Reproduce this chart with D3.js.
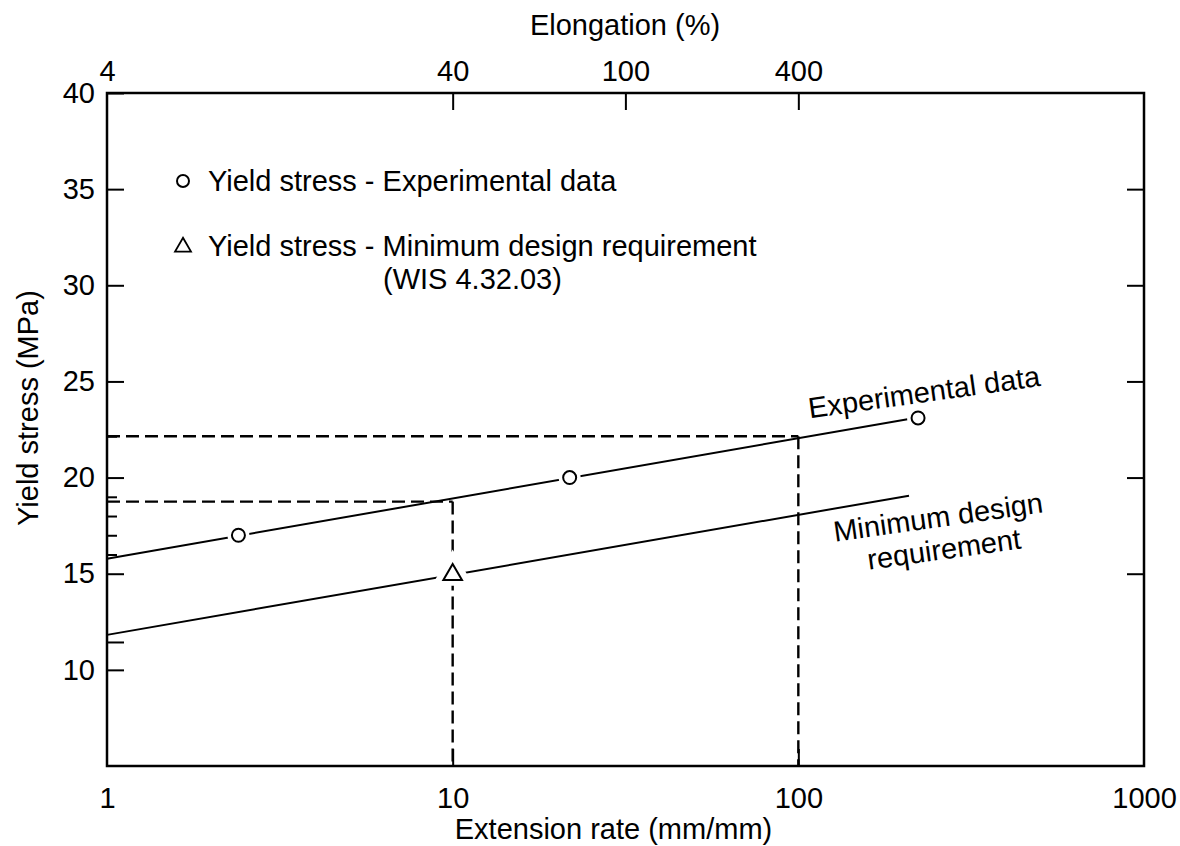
<!DOCTYPE html>
<html>
<head>
<meta charset="utf-8">
<script src="https://cdn.jsdelivr.net/npm/d3@7"></script>
<style>
  html, body { margin: 0; padding: 0; background: #fff; }
  svg { display: block; }
  text { font-family: "Liberation Sans", Arial, Helvetica, sans-serif; fill: #000; }
</style>
</head>
<body>
<svg id="chart" width="1180" height="846"></svg>
<script>
// ---- data ----
const xDomain = [1, 1000];
const yDomain = [5, 40];
const bottomTicks = [1, 10, 100, 1000];
const bottomTickLabels = ["1", "10", "100", "1000"];
const leftTicks = [10, 15, 20, 25, 30, 35, 40];
const leftMinorTicks = [22.15, 19, 18, 17, 16];
const leftExtraTicks = [11.45];
const topTickLabels = ["4", "40", "100", "400"];
const topTickPositions = [1, 10, 31.6, 100]; // extension rate where each elongation tick sits

const expX = [2.4, 21.8, 222];
const expY = [17.0, 20.0, 23.1];
const minX = [10];
const minY = [15.0];

const expLineX = [1, 209];
const expLineY = [15.78, 23.05];
const minLineX = [1, 209];
const minLineY = [11.82, 19.06];

const refLevels = [18.75, 22.15];
const refRates = [10, 100];

// ---- layout ----
const svg = d3.select("#chart");
const L = 107, R = 1144, T = 93, B = 766;
const x = d3.scaleLog().domain(xDomain).range([L, R]);
const y = d3.scaleLinear().domain(yDomain).range([B, T]);
const FS = 29;

// dashed reference lines
const dashG = svg.append("g").attr("stroke", "#000").attr("stroke-width", 2.4)
  .attr("stroke-dasharray", "13,6").attr("fill", "none");
refLevels.forEach((lv, i) => {
  dashG.append("line").attr("x1", x(xDomain[0])).attr("x2", x(refRates[i]))
    .attr("y1", y(lv)).attr("y2", y(lv));
  dashG.append("line").attr("x1", x(refRates[i])).attr("x2", x(refRates[i]))
    .attr("y1", y(lv)).attr("y2", y(yDomain[0]));
});

// fitted lines
const line = d3.line().x(d => x(d[0])).y(d => y(d[1]));
svg.append("path").datum(d3.zip(expLineX, expLineY)).attr("d", line)
  .attr("stroke", "#000").attr("stroke-width", 2).attr("fill", "none");
svg.append("path").datum(d3.zip(minLineX, minLineY)).attr("d", line)
  .attr("stroke", "#000").attr("stroke-width", 2).attr("fill", "none");

// markers (white halo creates the gap in the line)
const circ = svg.append("g");
d3.zip(expX, expY).forEach(d => {
  circ.append("circle").attr("cx", x(d[0])).attr("cy", y(d[1])).attr("r", 7)
    .attr("fill", "#fff").attr("stroke", "#fff").attr("stroke-width", 8);
  circ.append("circle").attr("cx", x(d[0])).attr("cy", y(d[1])).attr("r", 6.5)
    .attr("fill", "#fff").attr("stroke", "#000").attr("stroke-width", 2);
});
const tri = d3.symbol().type(d3.symbolTriangle).size(150);
d3.zip(minX, minY).forEach(d => {
  circ.append("path").attr("d", d3.symbol().type(d3.symbolTriangle).size(260)())
    .attr("transform", `translate(${x(d[0])},${y(d[1])})`)
    .attr("fill", "#fff").attr("stroke", "#fff").attr("stroke-width", 10);
  circ.append("path").attr("d", tri())
    .attr("transform", `translate(${x(d[0])},${y(d[1]) + 1})`)
    .attr("fill", "#fff").attr("stroke", "#000").attr("stroke-width", 2);
});

// frame
svg.append("rect").attr("x", L).attr("y", T).attr("width", R - L).attr("height", B - T)
  .attr("fill", "none").attr("stroke", "#000").attr("stroke-width", 2.5);

// axes (ticks inward)
const leftAxis = d3.axisLeft(y).tickValues(leftTicks).tickSize(-17).tickPadding(12).tickFormat(d3.format("d"));
const gl = svg.append("g").attr("transform", `translate(${L},0)`).call(leftAxis);
gl.select(".domain").remove();
gl.selectAll("line").attr("stroke-width", 2);
gl.selectAll("text").attr("font-size", FS).attr("font-family", null).attr("x", -12);

const leftMinor = d3.axisLeft(y).tickValues(leftMinorTicks).tickSize(-10).tickFormat("");
const glm = svg.append("g").attr("transform", `translate(${L},0)`).call(leftMinor);
glm.select(".domain").remove();
glm.selectAll("line").attr("stroke-width", 2);
const leftExtra = d3.axisLeft(y).tickValues(leftExtraTicks).tickSize(-17).tickFormat("");
const gle = svg.append("g").attr("transform", `translate(${L},0)`).call(leftExtra);
gle.select(".domain").remove();
gle.selectAll("line").attr("stroke-width", 2);

const rightAxis = d3.axisRight(y).tickValues(leftTicks.slice(1, -1)).tickSize(-17).tickFormat("");
const gr = svg.append("g").attr("transform", `translate(${R},0)`).call(rightAxis);
gr.select(".domain").remove();
gr.selectAll("line").attr("stroke-width", 2);

const bottomAxis = d3.axisBottom(x).tickValues(bottomTicks).tickSize(-17).tickPadding(21)
  .tickFormat((d, i) => bottomTickLabels[i]);
const gb = svg.append("g").attr("transform", `translate(0,${B})`).call(bottomAxis);
gb.select(".domain").remove();
gb.selectAll("line").attr("stroke-width", 2)
  .attr("opacity", d => (d === xDomain[0] || d === xDomain[1]) ? 0 : 1);
gb.selectAll("text").attr("font-size", FS).attr("font-family", null);

const topAxis = d3.axisTop(x).tickValues(topTickPositions).tickSize(-17).tickPadding(12)
  .tickFormat((d, i) => topTickLabels[i]);
const gt = svg.append("g").attr("transform", `translate(0,${T})`).call(topAxis);
gt.select(".domain").remove();
gt.selectAll("line").attr("stroke-width", 2)
  .attr("opacity", d => d === xDomain[0] ? 0 : 1);
gt.selectAll("text").attr("font-size", FS).attr("font-family", null);

// axis titles
svg.append("text").attr("x", (L + R) / 2 - 12).attr("y", 839).attr("text-anchor", "middle")
  .attr("font-size", FS).text("Extension rate (mm/mm)");
svg.append("text").attr("x", 625).attr("y", 35).attr("text-anchor", "middle")
  .attr("font-size", FS).text("Elongation (%)");
svg.append("text").attr("transform", "translate(38,408) rotate(-90)").attr("text-anchor", "middle")
  .attr("font-size", FS).text("Yield stress (MPa)");

// legend
svg.append("circle").attr("cx", 183).attr("cy", 181).attr("r", 6)
  .attr("fill", "#fff").attr("stroke", "#000").attr("stroke-width", 2);
svg.append("text").attr("x", 208).attr("y", 181).attr("dy", "0.35em").attr("font-size", FS)
  .text("Yield stress - Experimental data");
svg.append("path").attr("d", d3.symbol().type(d3.symbolTriangle).size(110)())
  .attr("transform", "translate(183,247)")
  .attr("fill", "#fff").attr("stroke", "#000").attr("stroke-width", 1.8);
svg.append("text").attr("x", 208).attr("y", 246).attr("dy", "0.35em").attr("font-size", FS)
  .text("Yield stress - Minimum design requirement");
svg.append("text").attr("x", 383).attr("y", 279).attr("dy", "0.35em").attr("font-size", FS)
  .text("(WIS 4.32.03)");

// line annotations
svg.append("text").attr("transform", "translate(924,392) rotate(-8)").attr("text-anchor", "middle")
  .attr("dy", "0.35em").attr("font-size", FS).text("Experimental data");
svg.append("text").attr("transform", "translate(938,517) rotate(-8)").attr("text-anchor", "middle")
  .attr("dy", "0.35em").attr("font-size", FS).text("Minimum design");
svg.append("text").attr("transform", "translate(944,549) rotate(-8)").attr("text-anchor", "middle")
  .attr("dy", "0.35em").attr("font-size", FS).text("requirement");
</script>
</body>
</html>
